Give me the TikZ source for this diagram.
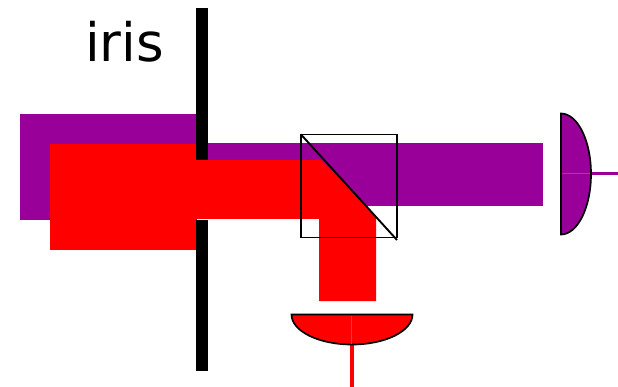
\documentclass[tikz,border=0pt]{standalone}
\usepackage{fontspec}
\setmainfont{DejaVu Sans}
\definecolor{beampurple}{RGB}{153,0,153}
\definecolor{beamred}{RGB}{255,0,0}
\tikzset{
  beam/.style={fill=#1,draw=none},
  detector/.style={fill=#1,draw=black,line width=1.7pt},
  lead/.style={draw=#1,line width=3.6pt},
  seam/.style={draw=#1,line width=.6pt},
  opticline/.style={draw=black,line width=1.9pt}
}
\begin{document}
\begin{tikzpicture}[x=1pt,y=-1pt]
\useasboundingbox (0,0) rectangle (618,387);
% purple beam
\path[beam=beampurple] (20,114) rectangle (197,220);
\path[beam=beampurple] (197,143) rectangle (543,206);
% iris blades
\path[fill=black] (195.5,8) rectangle (207.5,160);
\path[fill=black] (195.5,220) rectangle (207.5,371);
% red beam
\path[beam=beamred] (50,144) rectangle (196,250);
\path[beam=beamred] (195.5,160) -- (321.5,160) -- (376,217) -- (376,301) -- (319,301) -- (319,219) -- (195.5,219) -- cycle;
% beam splitter
\draw[opticline] (301,134.5) rectangle (397,237.5);
\draw[opticline] (301,134.5) -- (397,240);
% right detector
\draw[lead=beampurple] (590,173.5) -- (618,173.5);
\draw[detector=beampurple] (561,113.5) arc[start angle=-90,end angle=90,x radius=30,y radius=60.5] -- cycle;
\draw[seam=beampurple!80!white] (562,173.5) -- (590,173.5);
% bottom detector
\draw[lead=beamred] (352,344) -- (352,387);
\draw[detector=beamred] (291.5,314.5) arc[start angle=180,end angle=360,x radius=60.5,y radius=-30] -- cycle;
\draw[seam=beamred!80!white] (351.5,315.5) -- (351.5,343.5);
% label
\node[anchor=base west,inner sep=0pt,font=\fontsize{53}{53}\selectfont] (iristext) at (85,62) {iris};
\end{tikzpicture}
\end{document}
